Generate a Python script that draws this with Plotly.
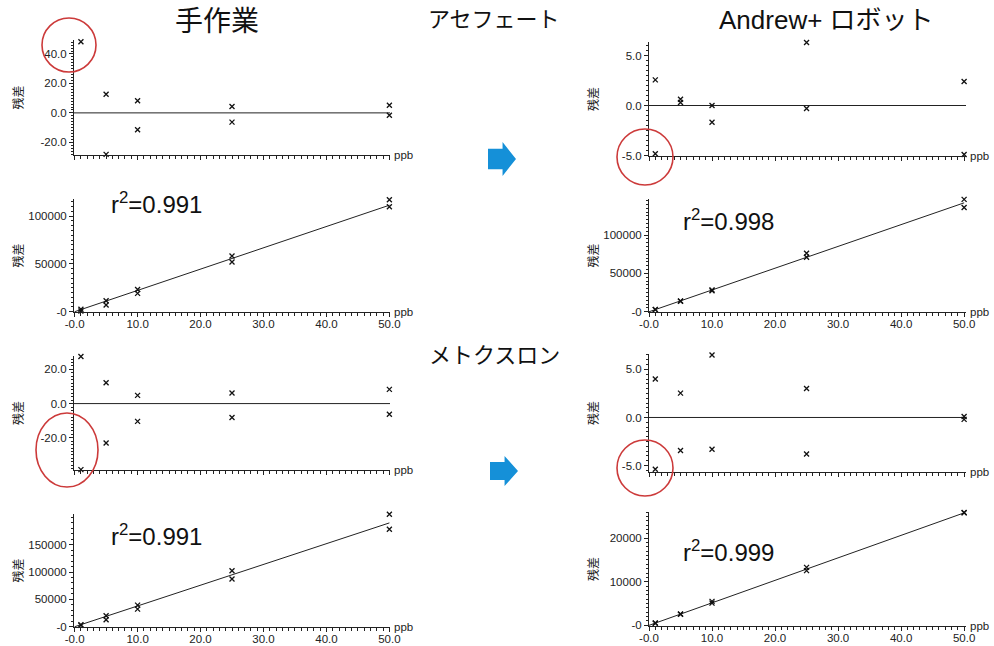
import plotly.graph_objects as go

W, H = 994, 646

# ---------------- data ----------------
conc = [1, 1, 5, 5, 10, 10, 25, 25, 50, 50]

ace_manual_resid = [48.3, -29.0, 12.7, -28.2, 8.3, -11.5, 4.3, -6.3, 5.2, -1.6]
ace_manual_cal = [2500, 700, 11500, 7000, 23300, 19200, 58300, 52100, 117200, 109800]
ace_manual_fit = [0, 111500]          # fitted response at 0 and 50 ppb

met_manual_resid = [27.5, -38.6, 12.2, -23.0, 4.8, -10.4, 6.2, -8.1, 8.3, -6.2]
met_manual_cal = [3800, 2400, 20000, 12700, 39500, 32200, 102400, 87300, 205500, 178200]
met_manual_fit = [0, 189700]

ace_robot_resid = [2.56, -4.83, 0.62, 0.30, 0.0, -1.68, 6.3, -0.3, 2.4, -4.9]
ace_robot_cal = [3000, 2800, 14000, 13700, 28500, 27500, 76200, 71000, 146500, 136000]
ace_robot_fit = [0, 142000]

met_robot_resid = [4.0, -5.39, 2.53, -3.44, 6.49, -3.3, 3.02, -3.79, 0.1, -0.2]
met_robot_cal = [550, 500, 2600, 2550, 5500, 5100, 13300, 12560, 25870, 25800]
met_robot_fit = [0, 25800]

r2_values = ["0.991", "0.991", "0.998", "0.999"]

x_tickvals = [0, 10, 20, 30, 40, 50]
x_ticktext = ["-0.0", "10.0", "20.0", "30.0", "40.0", "50.0"]

resid_ticks_manual_ace = ([40, 20, 0, -20], ["40.0", "20.0", "0.0", "-20.0"])
resid_ticks_manual_met = ([20, 0, -20], ["20.0", "0.0", "-20.0"])
resid_ticks_robot = ([5, 0, -5], ["5.0", "0.0", "-5.0"])
cal_ticks_big = ([100000, 50000, 0], ["100000", "50000", "-0"])
cal_ticks_man_met = ([150000, 100000, 50000, 0], ["150000", "100000", "50000", "-0"])
cal_ticks_small = ([20000, 10000, 0], ["20000", "10000", "-0"])

titles = ["手作業", "アセフェート", "Andrew+ ロボット", "メトクスロン"]
y_title = "残差"
x_unit = "ppb"

# ---------------- helpers ----------------
def px(x):
    return x / W

def py(y):
    return 1 - y / H

TICKFONT = dict(family="Liberation Sans, Arial, sans-serif", size=11.5, color="#222")

panels = [
    dict(xd=(74, 390), yd=(40, 155), yr=[-28.6, 49.5], xr=[-0.1, 50.1], ticks=resid_ticks_manual_ace, minor=2, kind="res", y=ace_manual_resid),
    dict(xd=(74, 390), yd=(199, 312), yr=[-300, 118000], xr=[-0.1, 50.1], ticks=cal_ticks_big, minor=5000, kind="cal", y=ace_manual_cal, fit=ace_manual_fit, r2=r2_values[0]),
    dict(xd=(74, 390), yd=(356, 470), yr=[-38.8, 27.8], xr=[-0.1, 50.1], ticks=resid_ticks_manual_met, minor=2, kind="res", y=met_manual_resid),
    dict(xd=(74, 390), yd=(514, 627), yr=[-500, 206000], xr=[-0.1, 50.1], ticks=cal_ticks_man_met, minor=10000, kind="cal", y=met_manual_cal, fit=met_manual_fit, r2=r2_values[1]),
    dict(xd=(649, 966), yd=(42, 156), yr=[-5.05, 6.35], xr=[0, 50.3], ticks=resid_ticks_robot, minor=0.5, kind="res", y=ace_robot_resid),
    dict(xd=(649, 966), yd=(199, 312), yr=[-300, 147000], xr=[0, 50.3], ticks=cal_ticks_big, minor=5000, kind="cal", y=ace_robot_cal, fit=ace_robot_fit, r2=r2_values[2]),
    dict(xd=(649, 966), yd=(354, 472), yr=[-5.67, 6.6], xr=[0, 50.3], ticks=resid_ticks_robot, minor=0.5, kind="res", y=met_robot_resid),
    dict(xd=(649, 966), yd=(512, 626), yr=[-150, 26000], xr=[0, 50.3], ticks=cal_ticks_small, minor=1000, kind="cal", y=met_robot_cal, fit=met_robot_fit, r2=r2_values[3]),
]

fig = go.Figure()
layout = {}
annotations = []

for i, p in enumerate(panels, start=1):
    xn = "x" if i == 1 else f"x{i}"
    yn = "y" if i == 1 else f"y{i}"
    xkey = "xaxis" if i == 1 else f"xaxis{i}"
    ykey = "yaxis" if i == 1 else f"yaxis{i}"

    if p["kind"] == "res":
        fx, fy = [p["xr"][0], p["xr"][1]], [0, 0]
    else:
        fx, fy = [0, 50], p["fit"]
    fig.add_trace(go.Scatter(x=fx, y=fy, mode="lines", xaxis=xn, yaxis=yn,
                             line=dict(color="#222", width=1), showlegend=False,
                             hoverinfo="skip", cliponaxis=False))
    fig.add_trace(go.Scatter(x=conc, y=p["y"], mode="markers", xaxis=xn, yaxis=yn,
                             marker=dict(symbol="x-thin", size=5, color="#111",
                                         line=dict(width=1.3, color="#111")),
                             showlegend=False, cliponaxis=False))

    layout[xkey] = dict(
        domain=[px(p["xd"][0]), px(p["xd"][1])], range=p["xr"], anchor=yn,
        showline=True, linecolor="#222", linewidth=1, showgrid=False, zeroline=False,
        ticks="outside", ticklen=4, tickcolor="#222", tickmode="array",
        tickvals=x_tickvals, ticktext=x_ticktext, automargin=False,
        showticklabels=(p["kind"] == "cal"), tickfont=TICKFONT, ticklabelstandoff=-3,
        minor=dict(dtick=1, tick0=0, ticks="outside", ticklen=3, tickcolor="#222"),
        fixedrange=True,
    )
    layout[ykey] = dict(
        domain=[py(p["yd"][1]), py(p["yd"][0])], range=p["yr"], anchor=xn,
        showline=True, linecolor="#222", linewidth=1, showgrid=False, zeroline=False,
        ticks="outside", ticklen=4, tickcolor="#222", tickmode="array",
        tickvals=p["ticks"][0], ticktext=p["ticks"][1], tickfont=TICKFONT, automargin=False,
        minor=dict(dtick=p["minor"], tick0=0, ticks="outside", ticklen=2, tickcolor="#222"),
        fixedrange=True,
    )

    annotations.append(dict(text=x_unit, xref=f"{xn} domain", yref=f"{yn} domain",
                            x=1.005, y=0, xanchor="left", yanchor="middle", showarrow=False,
                            font=dict(family="Liberation Sans, Arial, sans-serif", size=11.5, color="#222")))
    ytx = 17 if p["xd"][0] < 300 else 592
    annotations.append(dict(text=y_title, xref="paper", yref="paper",
                            x=px(ytx), y=py((p["yd"][0] + p["yd"][1]) / 2),
                            textangle=-90, showarrow=False, xanchor="center", yanchor="middle",
                            font=dict(family="Noto Sans CJK JP", size=12, color="#222")))
    if p["kind"] == "cal":
        r2pos = {2: (109, 203), 4: (109, 535), 6: (681, 220), 8: (681, 551)}[i]
        annotations.append(dict(text="r<sup>2</sup>=" + p["r2"], xref="paper", yref="paper",
                                x=px(r2pos[0]), y=py(r2pos[1]), xanchor="left", yanchor="middle",
                                showarrow=False,
                                font=dict(family="Liberation Sans, Arial, sans-serif", size=24, color="#111")))

title_specs = [(217, 22, 28), (494, 19, 22), (826, 20, 26), (494, 355, 22)]
for t, (tx, ty, ts) in zip(titles, title_specs):
    annotations.append(dict(text=t, xref="paper", yref="paper", x=px(tx), y=py(ty),
                            xanchor="center", yanchor="middle", showarrow=False,
                            font=dict(family="Liberation Sans, Noto Sans CJK JP", size=ts, color="#111")))

shapes = []
def arrow_path(x0, y0, x1, y1):
    h = y1 - y0
    bx = x0 + (x1 - x0) * 0.52
    b0 = y0 + h * 0.2
    b1 = y0 + h * 0.8
    ym = (y0 + y1) / 2
    pts = [(x0, b0), (bx, b0), (bx, y0), (x1, ym), (bx, y1), (bx, b1), (x0, b1)]
    return "M " + " L ".join(f"{px(a):.5f},{py(b):.5f}" for a, b in pts) + " Z"

for (a0, b0, a1, b1) in [(488, 142, 516, 176), (490, 456, 518, 486)]:
    shapes.append(dict(type="path", xref="paper", yref="paper", path=arrow_path(a0, b0, a1, b1),
                       fillcolor="#1590d8", line=dict(width=0)))

for (cx, cy, rx, ry) in [(69, 45, 27, 27), (645, 157, 28, 28), (67, 450, 31, 37), (645, 468, 28, 28)]:
    shapes.append(dict(type="circle", xref="paper", yref="paper",
                       x0=px(cx - rx), x1=px(cx + rx), y0=py(cy + ry), y1=py(cy - ry),
                       line=dict(color="#cc3a3a", width=1.6)))

fig.update_layout(width=W, height=H, margin=dict(l=0, r=0, t=0, b=0, autoexpand=False),
                  paper_bgcolor="white", plot_bgcolor="white",
                  annotations=annotations, shapes=shapes, showlegend=False, **layout)

fig.write_html("out.html", config={"displayModeBar": False},
               post_script="document.body.style.margin='0px';document.body.style.overflow='hidden';")
